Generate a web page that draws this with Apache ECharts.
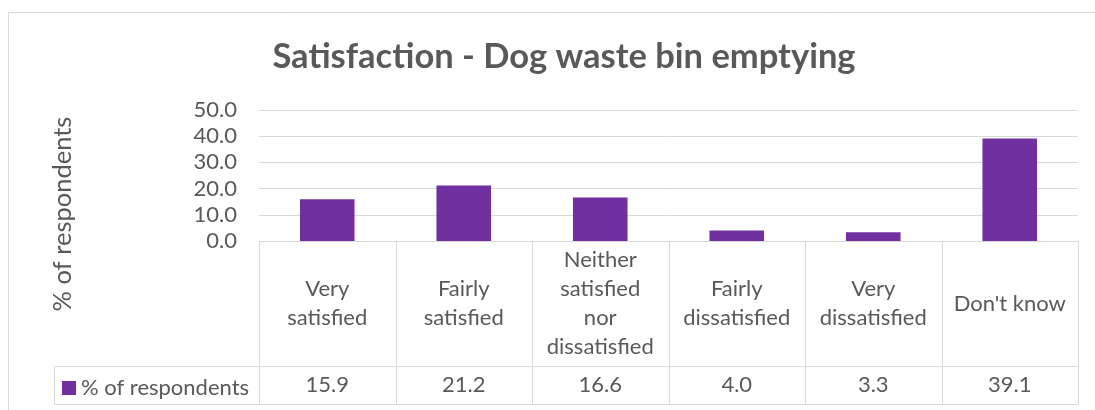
<!DOCTYPE html>
<html>
<head>
<meta charset="utf-8">
<script src="https://cdn.jsdelivr.net/npm/echarts@6/dist/echarts.min.js"></script>
<style>
  html, body { margin: 0; padding: 0; background: #ffffff; }
  #chart { width: 1095px; height: 410px; }
</style>
</head>
<body>
<div id="chart"></div>
<script>
// Survey answers (wrapped as they appear in the table) and the share of respondents giving each one (%)
const categories = ['Very\nsatisfied', 'Fairly\nsatisfied', 'Neither\nsatisfied\nnor\ndissatisfied',
                    'Fairly\ndissatisfied', 'Very\ndissatisfied', "Don't know"];
const shares = [15.9, 21.2, 16.6, 4.0, 3.3, 39.1];
const seriesName = '% of respondents';
const yTicks = [0, 10, 20, 30, 40, 50];

const FONT = 'Lato, "Open Sans", sans-serif';
const TEXT = '#595959';
const RULE = '#d9d9d9';
const BAR = '#7030a0';

const chart = echarts.init(document.getElementById('chart'), null, { renderer: 'canvas' });

// One table cell per category, sized from the category band of its grid
function cellRenderer(textOf, lineHeight) {
  return function (params, api) {
    const idx = api.value(0);
    const center = api.coord([idx, 0]);
    const band = api.size([1, 0])[0];
    const top = api.coord([idx, 1])[1];
    const bottom = api.coord([idx, 0])[1];
    const x0 = Math.round(center[0] - band / 2) + 0.5;
    const x1 = Math.round(center[0] + band / 2) + 0.5;
    const y0 = Math.round(top) + 0.5;
    const y1 = Math.round(bottom) + 0.5;
    return {
      type: 'group',
      children: [
        {
          type: 'rect',
          shape: { x: x0, y: y0, width: x1 - x0, height: y1 - y0 },
          style: { fill: 'none', stroke: RULE, lineWidth: 1 }
        },
        {
          type: 'text',
          x: center[0],
          y: (top + bottom) / 2,
          style: {
            text: textOf(idx),
            fill: TEXT,
            font: '22px ' + FONT,
            align: 'center',
            verticalAlign: 'middle',
            lineHeight: lineHeight
          }
        }
      ]
    };
  };
}

const option = {
  backgroundColor: '#ffffff',
  animation: false,
  title: {
    text: 'Satisfaction - Dog waste bin emptying',
    left: 559,
    top: 34,
    textAlign: 'center',
    textStyle: { color: TEXT, fontFamily: FONT, fontWeight: 'bold', fontSize: 34.5 }
  },
  legend: {
    data: [seriesName],
    left: 62,
    top: 377,
    padding: 0,
    itemWidth: 14,
    itemHeight: 14,
    icon: 'rect',
    selectedMode: false,
    textStyle: { color: TEXT, fontFamily: FONT, fontSize: 22, lineHeight: 14 }
  },
  grid: [
    { left: 259, right: 17, top: 110, height: 131 },
    { left: 259, right: 17, top: 241, height: 125 },
    { left: 259, right: 17, top: 366, height: 38 }
  ],
  xAxis: [
    { type: 'category', gridIndex: 0, data: categories,
      axisLine: { show: false }, axisTick: { show: false }, axisLabel: { show: false } },
    { type: 'category', gridIndex: 1, data: categories, show: false },
    { type: 'category', gridIndex: 2, data: categories, show: false }
  ],
  yAxis: [
    { type: 'value', gridIndex: 0, min: yTicks[0], max: yTicks[yTicks.length - 1], interval: 10,
      axisLine: { show: false }, axisTick: { show: false },
      axisLabel: { color: TEXT, fontFamily: FONT, fontSize: 22, margin: 22,
                   formatter: v => v.toFixed(1) },
      splitLine: { lineStyle: { color: RULE, width: 1 } } },
    { type: 'value', gridIndex: 1, min: 0, max: 1, show: false },
    { type: 'value', gridIndex: 2, min: 0, max: 1, show: false }
  ],
  series: [
    {
      name: seriesName,
      type: 'bar',
      xAxisIndex: 0, yAxisIndex: 0,
      data: shares,
      barWidth: '40%',
      itemStyle: { color: BAR }
    },
    {
      name: 'categoryCells',
      type: 'custom',
      xAxisIndex: 1, yAxisIndex: 1,
      data: categories.map((c, i) => [i]),
      encode: { x: 0 },
      silent: true,
      renderItem: cellRenderer(i => categories[i], 29)
    },
    {
      name: 'valueCells',
      type: 'custom',
      xAxisIndex: 2, yAxisIndex: 2,
      data: shares.map((v, i) => [i]),
      encode: { x: 0 },
      silent: true,
      renderItem: cellRenderer(i => shares[i].toFixed(1), 24)
    }
  ],
  graphic: [
    {
      // chart area frame
      type: 'rect',
      shape: { x: 8.5, y: 12.5, width: 1200, height: 500 },
      style: { fill: 'none', stroke: RULE, lineWidth: 1 },
      silent: true
    },
    {
      // legend-key cell at the head of the value row
      type: 'rect',
      shape: { x: 54.5, y: 366.5, width: 205, height: 38 },
      style: { fill: 'none', stroke: RULE, lineWidth: 1 },
      silent: true
    },
    {
      type: 'text',
      x: 63,
      y: 214,
      rotation: Math.PI / 2,
      style: {
        text: '% of respondents',
        fill: TEXT,
        font: '25.5px ' + FONT,
        align: 'center',
        verticalAlign: 'middle'
      },
      silent: true
    }
  ]
};

chart.setOption(option);
</script>
</body>
</html>
